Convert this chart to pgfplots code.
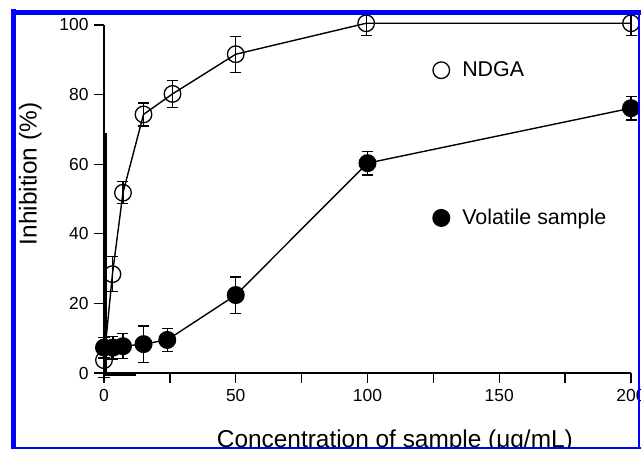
\documentclass[border=0pt]{standalone}
\usepackage{fontspec}
\setmainfont{Liberation Sans}
\usepackage{pgfplots}
\pgfplotsset{compat=1.18}
\begin{document}
\begin{tikzpicture}
\useasboundingbox (0,0) rectangle (641bp,449bp);
\clip (0,0) rectangle (641bp,449bp);
\fill[white] (0,0) rectangle (641bp,449bp);
\begin{axis}[
  at={(104bp,76bp)}, anchor=south west,
  scale only axis, width=527bp, height=348bp,
  xmin=0, xmax=200, ymin=0, ymax=100,
  axis lines=left, axis line style={-, line width=2bp, black},
  xtick={0,50,100,150,200}, minor xtick={25,75,125,175},
  ytick={0,20,40,60,80,100},
  tick align=outside, major tick length=10bp, minor tick length=10bp,
  tick style={black, line width=1.3bp},
  xticklabel={\fontsize{17.5}{17.5}\selectfont\pgfmathprintnumber[assume math mode=true]{\tick}},
  yticklabel={\fontsize{17.5}{17.5}\selectfont\pgfmathprintnumber[assume math mode=true]{\tick}},
  xticklabel style={yshift=-3bp},
  yticklabel style={xshift=-2bp},
  /pgf/number format/assume math mode=true,
  xlabel={Concentration of sample (μg/mL)},
  ylabel={Inhibition (\%)},
  label style={font=\fontsize{24.5}{24.5}\selectfont},
  xlabel style={at={(axis description cs:0.552,-0.214)}, anchor=base},
  ylabel style={at={(axis description cs:-0.128,0.572)}, anchor=base},
  clip=false,
  legend style={at={(axis cs:124.7,90)}, anchor=north west, draw=none, fill=none,
    row sep=127bp, inner sep=0pt, font=\fontsize{21.5}{21.5}\selectfont},
  legend cell align=left,
  legend image code/.code={\path[draw=none,fill=none] (-8.5bp,0bp) -- (19bp,0bp); \draw[#1, only marks] plot coordinates {(0bp,0bp)};},
  error bars/error bar style={line width=1.2bp, black},
  error bars/error mark options={rotate=90, mark size=5.5bp, line width=1.2bp, black},
]
\addplot[black, line width=1.4bp, mark=o, mark size=8.3bp, mark options={fill=white, line width=1.3bp},
  error bars/.cd, y dir=both, y explicit]
  table[x=x, y=y, y error=e] {
x y e
0 3.7 5.0
3.2 28.4 5.0
7.2 51.8 3.2
15 74.3 3.3
26 80.2 3.8
50 91.6 5.2
99.5 100.5 3.5
200 100.5 3.5
};
\addlegendentry{NDGA}
\addplot[black, line width=1.4bp, mark=*, mark size=8.3bp, mark options={fill=black},
  error bars/.cd, y dir=both, y explicit]
  table[x=x, y=y, y error=e] {
x y e
0 7.3 3.0
3.4 7.3 3.3
7.2 7.7 3.6
15 8.3 5.2
24 9.5 3.4
50 22.4 5.2
100 60.3 3.4
200 76.1 3.4
};
\addlegendentry{Volatile sample}
\draw[black, line width=3bp] (axis cs:0.4,0) -- (axis cs:0.4,69);
\draw[black, line width=3bp] (axis cs:0,-0.3) -- (axis cs:12,-0.3);
\end{axis}
\draw[blue, line width=5bp] (13.5bp,0) -- (13.5bp,439.5bp);
\draw[blue, line width=5bp] (11bp,436.5bp) -- (641bp,436.5bp);
\draw[blue, line width=2bp] (638.5bp,0) -- (638.5bp,436bp);
\draw[blue, line width=2bp] (11bp,1bp) -- (641bp,1bp);
\end{tikzpicture}
\end{document}
